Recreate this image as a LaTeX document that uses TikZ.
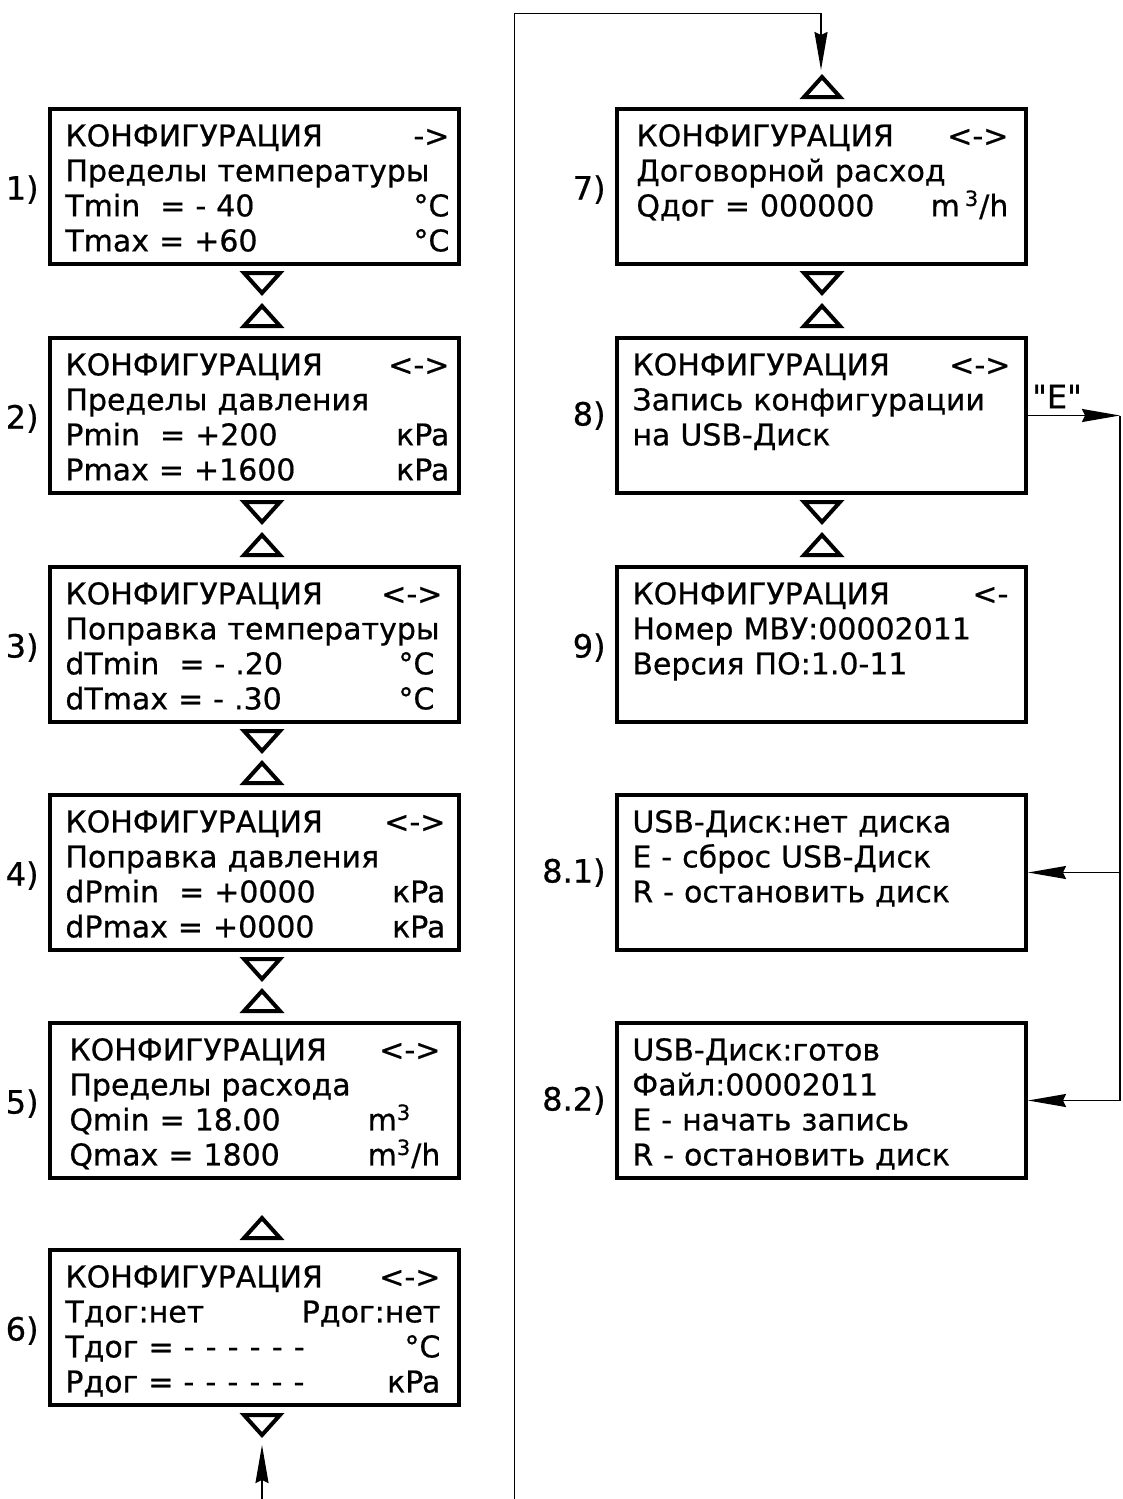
\documentclass[tikz,border=0pt]{standalone}
\usepackage{fontspec}
\newfontfamily\lcdfont{DejaVu Sans}[FakeBold=0.6]
\usetikzlibrary{arrows.meta,calc}
\newcommand\lcdrow[2]{\makebox[\linewidth][l]{\strut#1\hfill#2}}
\newcommand\lcddash{-\hspace{5.6pt}-\hspace{5.6pt}-\hspace{5.6pt}-\hspace{5.6pt}-\hspace{5.6pt}-}
\newcommand\cub{\smash{\textsuperscript{3}}}
\tikzset{
  lcdbox/.style={draw, line width=2pt, minimum width=204.5pt, minimum height=77.5pt, inner sep=0pt},
  lcdtext/.style={anchor=north west, inner sep=0pt, align=left, font=\lcdfont\fontsize{15}{17.5}\selectfont},
  lbl/.style={anchor=east, inner sep=0pt, font=\lcdfont\fontsize{16}{18}\selectfont},
  tri/.style={line width=2pt, line join=miter},
  conn/.style={line width=0.8pt},
  arr/.style={conn, -{Stealth[length=19pt,width=6.5pt,inset=1.5pt]}},
  dtri/.pic={\draw[tri] (-18,0) -- (18,0) -- (0,20) -- cycle;},
  utri/.pic={\draw[tri] (-18,0) -- (18,0) -- (0,-20) -- cycle;},
}
\begin{document}
\begin{tikzpicture}[x=0.5pt,y=-0.5pt]
\useasboundingbox (0,0) rectangle (1123,1499);
% ---- left column boxes
\node[lcdbox] (b1) at (254.5,186.5) {};
\node[lcdbox] (b2) at (254.5,415.5) {};
\node[lcdbox] (b3) at (254.5,644.5) {};
\node[lcdbox] (b4) at (254.5,872.5) {};
\node[lcdbox] (b5) at (254.5,1100.5) {};
\node[lcdbox] (b6) at (254.5,1327.5) {};
% ---- right column boxes
\node[lcdbox] (b7) at (821.5,186.5) {};
\node[lcdbox] (b8) at (821.5,415.5) {};
\node[lcdbox] (b9) at (821.5,644.5) {};
\node[lcdbox] (b81) at (821.5,872.5) {};
\node[lcdbox] (b82) at (821.5,1100.5) {};
% ---- texts
\node[lcdtext, text width=192pt] (t1) at ($(b1.north west)+(17,14.5)$) {%
\lcdrow{КОНФИГУРАЦИЯ}{->}\\
\lcdrow{Пределы температуры}{}\\
\lcdrow{Tmin\ \ = -\ 40}{°C}\\
\lcdrow{Tmax = +60}{°C}};
\node[lcdtext, text width=192pt] (t2) at ($(b2.north west)+(17,14.5)$) {%
\lcdrow{КОНФИГУРАЦИЯ}{<->}\\
\lcdrow{Пределы давления}{}\\
\lcdrow{Pmin\ \ = +200}{кPa}\\
\lcdrow{Pmax = +1600}{кPa}};
\node[lcdtext, text width=188.5pt] (t3) at ($(b3.north west)+(17,14.5)$) {%
\lcdrow{КОНФИГУРАЦИЯ}{<->}\\
\lcdrow{Поправка температуры}{}\\
\lcdrow{dTmin\ \ = - .20}{°C\hspace{4pt}}\\
\lcdrow{dTmax = - .30}{°C\hspace{4pt}}};
\node[lcdtext, text width=190pt] (t4) at ($(b4.north west)+(17,14.5)$) {%
\lcdrow{КОНФИГУРАЦИЯ}{<->}\\
\lcdrow{Поправка давления}{}\\
\lcdrow{dPmin\ \ = +0000}{кPa}\\
\lcdrow{dPmax = +0000}{кPa}};
\node[lcdtext, text width=185.5pt] (t5) at ($(b5.north west)+(21,14.5)$) {%
\lcdrow{КОНФИГУРАЦИЯ}{<->}\\
\lcdrow{Пределы расхода}{}\\
\lcdrow{Qmin\ = 18.00}{\rlap{m\cub}\phantom{m\cub/h}}\\
\lcdrow{Qmax = 1800}{m\cub/h}};
\node[lcdtext, text width=187.5pt] (t6) at ($(b6.north west)+(17,14.5)$) {%
\lcdrow{КОНФИГУРАЦИЯ}{<->}\\
\lcdrow{Тдог:нет}{Рдог:нет}\\
\lcdrow{Тдог = \lcddash}{°C}\\
\lcdrow{Рдог = \lcddash}{кPa}};
\node[lcdtext, text width=186pt] (t7) at ($(b7.north west)+(21,14.5)$) {%
\lcdrow{КОНФИГУРАЦИЯ}{<->}\\
\lcdrow{Договорной расход}{}\\
\lcdrow{Qдог = 000000}{m\,\cub/h}};
\node[lcdtext, text width=189pt] (t8) at ($(b8.north west)+(17,14.5)$) {%
\lcdrow{КОНФИГУРАЦИЯ}{<->}\\
\lcdrow{Запись конфигурации}{}\\
\lcdrow{на USB-Диск}{}};
\node[lcdtext, text width=188pt] (t9) at ($(b9.north west)+(17,14.5)$) {%
\lcdrow{КОНФИГУРАЦИЯ}{<-}\\
\lcdrow{Номер МВУ:00002011}{}\\
\lcdrow{Версия ПО:1.0-11}{}};
\node[lcdtext, text width=188pt] (t81) at ($(b81.north west)+(17,14.5)$) {%
\lcdrow{USB-Диск:нет диска}{}\\
\lcdrow{E - сброс USB-Диск}{}\\
\lcdrow{R - остановить диск}{}};
\node[lcdtext, text width=188pt] (t82) at ($(b82.north west)+(17,14.5)$) {%
\lcdrow{USB-Диск:готов}{}\\
\lcdrow{Файл:00002011}{}\\
\lcdrow{E - начать запись}{}\\
\lcdrow{R - остановить диск}{}};
% ---- labels
\node[lbl] (l1) at ($(b1.west)+(-9,3)$) {1)};
\node[lbl] (l2) at ($(b2.west)+(-9,3)$) {2)};
\node[lbl] (l3) at ($(b3.west)+(-9,3)$) {3)};
\node[lbl] (l4) at ($(b4.west)+(-9,3)$) {4)};
\node[lbl] (l5) at ($(b5.west)+(-9,3)$) {5)};
\node[lbl] (l6) at ($(b6.west)+(-9,3)$) {6)};
\node[lbl] (l7) at ($(b7.west)+(-9,3)$) {7)};
\node[lbl] (l8) at ($(b8.west)+(-9,0)$) {8)};
\node[lbl] (l9) at ($(b9.west)+(-9,3)$) {9)};
\node[lbl] (l81) at ($(b81.west)+(-9,0)$) {8.1)};
\node[lbl] (l82) at ($(b82.west)+(-9,0)$) {8.2)};
% ---- triangles
\pic at ($(b1.south)+(7.5,7)$) {dtri};
\pic at ($(b2.north)+(7.5,-10)$) {utri};
\pic at ($(b2.south)+(7.5,7)$) {dtri};
\pic at ($(b3.north)+(7.5,-10)$) {utri};
\pic at ($(b3.south)+(7.5,7)$) {dtri};
\pic at ($(b4.north)+(7.5,-10)$) {utri};
\pic at ($(b4.south)+(7.5,7)$) {dtri};
\pic at ($(b5.north)+(7.5,-10)$) {utri};
\pic at ($(b6.north)+(7.5,-10)$) {utri};
\pic at ($(b6.south)+(7.5,8)$) {dtri};
\pic at ($(b7.north)+(0.5,-10)$) {utri};
\pic at ($(b7.south)+(0.5,7)$) {dtri};
\pic at ($(b8.north)+(0.5,-10)$) {utri};
\pic at ($(b8.south)+(0.5,7)$) {dtri};
\pic at ($(b9.north)+(0.5,-10)$) {utri};
% ---- connectors
\coordinate (botL) at (262,1499);
\coordinate (in6) at (262,1445);
\draw[arr] (botL) -- (in6);
\coordinate (loopA) at (514.5,1499);
\coordinate (loopB) at (514.5,13.5);
\coordinate (loopC) at (821,13.5);
\coordinate (in7) at (821,70);
\draw[arr] (loopA) -- (loopB) -- (loopC) -- (in7);
\coordinate (busX) at (1120,0);
\draw[arr] (b8.east) -- (b8.east -| busX);
\draw[conn] (b8.east -| busX) -- (b82.east -| busX);
\draw[arr] (b81.east -| busX) -- (b81.east);
\draw[arr] (b82.east -| busX) -- (b82.east);
\node[lbl, anchor=center] (elabel) at ($(b8.east)+(29,-19)$) {"E"};
\end{tikzpicture}
\end{document}
